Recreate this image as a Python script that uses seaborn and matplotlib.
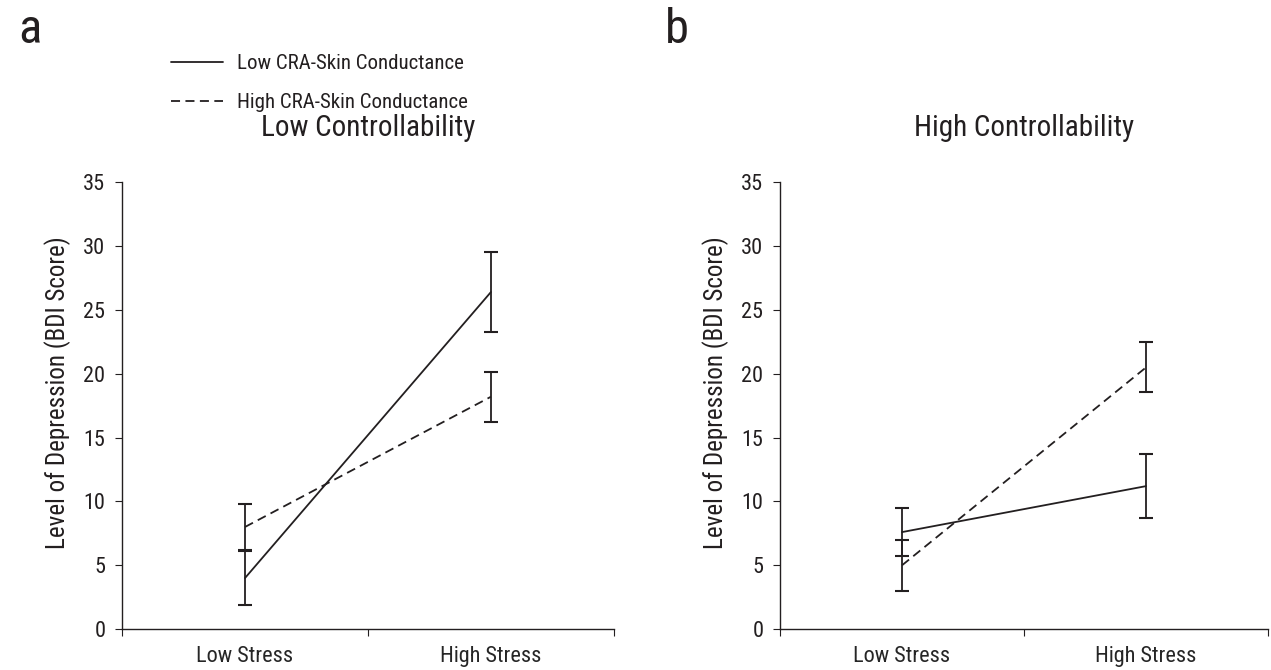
import pandas as pd
import matplotlib
matplotlib.use("Agg")
import matplotlib.pyplot as plt
import seaborn as sns

# values
stress = ["Low Stress", "High Stress"]
groups = ["Low CRA-Skin Conductance", "High CRA-Skin Conductance"]

# panel a: low controllability
low_ctrl_low_cra = [4.0, 26.4]
low_ctrl_low_cra_err = [2.1, 3.1]
low_ctrl_high_cra = [8.0, 18.2]
low_ctrl_high_cra_err = [1.8, 1.95]

# panel b: high controllability
high_ctrl_low_cra = [7.6, 11.2]
high_ctrl_low_cra_err = [1.9, 2.5]
high_ctrl_high_cra = [5.0, 20.5]
high_ctrl_high_cra_err = [2.0, 1.95]

sns.set_style("ticks")
plt.rcParams["font.family"] = ["Roboto Condensed", "Liberation Sans Narrow", "Roboto", "DejaVu Sans"]
ink = "#231f20"


def make_df(low_vals, low_err, high_vals, high_err):
    rows = []
    for g, vals, errs in [(groups[0], low_vals, low_err), (groups[1], high_vals, high_err)]:
        for i, s in enumerate(stress):
            rows.append({"stress": s, "pos": i + 0.5, "group": g, "bdi": vals[i], "err": errs[i]})
    return pd.DataFrame(rows)


panels = [
    ("a", "Low Controllability",
     make_df(low_ctrl_low_cra, low_ctrl_low_cra_err, low_ctrl_high_cra, low_ctrl_high_cra_err)),
    ("b", "High Controllability",
     make_df(high_ctrl_low_cra, high_ctrl_low_cra_err, high_ctrl_high_cra, high_ctrl_high_cra_err)),
]

fig = plt.figure(figsize=(12.71, 6.7), dpi=100)
ax_a = fig.add_axes([0.096, 0.061, 0.387, 0.667])
ax_b = fig.add_axes([0.6137, 0.061, 0.384, 0.667])

for ax, (letter, title, df) in zip([ax_a, ax_b], panels):
    sns.lineplot(data=df, x="pos", y="bdi", style="group", style_order=groups,
                 dashes={groups[0]: "", groups[1]: (5, 3)}, color=ink, linewidth=1.3,
                 ax=ax, legend=(letter == "a"))
    for g in groups:
        sub = df[df["group"] == g]
        ax.errorbar(sub["pos"], sub["bdi"], yerr=sub["err"], fmt="none", ecolor=ink,
                    elinewidth=1.3, capsize=5, capthick=1.5)
    ax.set_xlim(0, 2)
    ax.set_ylim(0, 35)
    ax.set_yticks(range(0, 36, 5))
    ax.set_xticks([0, 1, 2])
    ax.set_xticklabels([])
    ax.set_xticks([0.5, 1.5], minor=True)
    ax.set_xticklabels(stress, minor=True)
    ax.tick_params(axis="x", which="minor", length=0, labelsize=16, pad=12)
    ax.tick_params(axis="x", which="major", length=5, color=ink)
    ax.tick_params(axis="y", labelsize=16, length=5, color=ink, colors=ink, pad=7)
    ax.set_xlabel("")
    ax.set_ylabel("Level of Depression (BDI Score)", fontsize=18, color=ink, labelpad=9)
    ax.yaxis.label.set_y(0.53)
    ax.set_title(title, fontsize=21, color=ink, pad=33)
    for sp in ["left", "bottom"]:
        ax.spines[sp].set_color(ink)
        ax.spines[sp].set_linewidth(1.0)
    sns.despine(ax=ax)

handles, labels = ax_a.get_legend_handles_labels()
ax_a.get_legend().remove()
fig.legend(handles, labels, loc="upper left", bbox_to_anchor=(0.1196, 0.947), frameon=False,
           fontsize=15, handlelength=2.5, handletextpad=0.67, labelspacing=0.95, labelcolor=ink)

fig.text(0.014, 0.936, "a", fontsize=35, color=ink, va="baseline")
fig.text(0.523, 0.936, "b", fontsize=35, color=ink, va="baseline")

fig.savefig("out.png", dpi=100, facecolor="white")
